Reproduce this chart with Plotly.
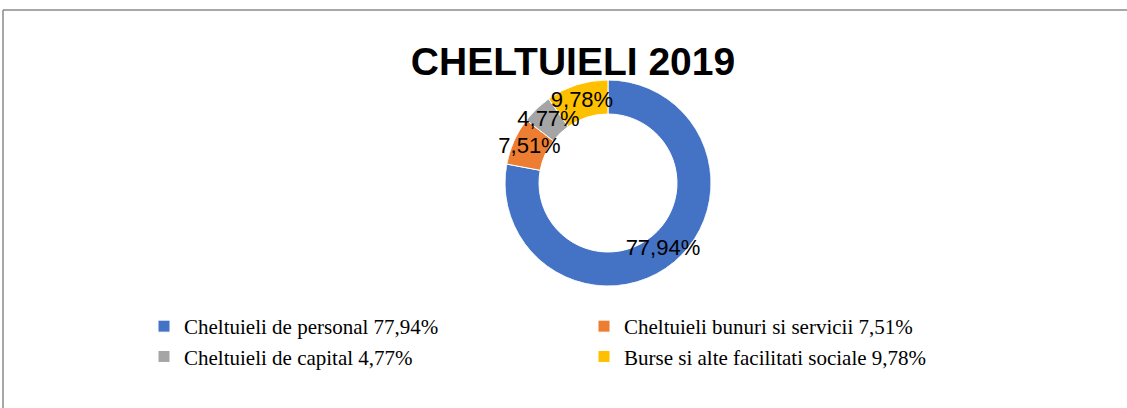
import plotly.graph_objects as go

categories = ["Cheltuieli de personal", "Cheltuieli bunuri si servicii",
              "Cheltuieli de capital", "Burse si alte facilitati sociale"]
values = [77.94, 7.51, 4.77, 9.78]
colors = ["#4472C4", "#ED7D31", "#A5A5A5", "#FFC000"]
title_text = "CHELTUIELI 2019"

W, H = 1127, 408
HOLE = 0.67
total = sum(values)

def fmt(v):
    return f"{v:.2f}".replace(".", ",") + "%"

# angular positions derived from the data (clockwise from 12 o'clock)
mids, spans = [], []
cum = 0.0
for v in values:
    span = v / total * 360.0
    mids.append(cum + span / 2)
    spans.append(span)
    cum += span

fig = go.Figure()
for c, v, col, m, s in zip(categories, values, colors, mids, spans):
    fig.add_trace(go.Barpolar(
        name=f"{c} {fmt(v)}",
        theta=[m], width=[s], base=[HOLE], r=[1 - HOLE],
        marker=dict(color=col, line=dict(color="white", width=1)),
        hovertemplate=f"{c}: {fmt(v)}<extra></extra>",
    ))

fig.add_trace(go.Scatterpolar(
    theta=mids, r=[(1 + HOLE) / 2] * len(values),
    mode="text", text=[fmt(v) for v in values],
    textposition="middle center",
    textfont=dict(family="Liberation Sans", size=22, color="black"),
    showlegend=False, hoverinfo="skip",
))

fig.update_layout(
    width=W, height=H,
    margin=dict(l=0, r=0, t=0, b=0),
    paper_bgcolor="white",
    polar=dict(
        domain=dict(x=[505 / W, 711 / W], y=[1 - 286 / H, 1 - 80 / H]),
        bgcolor="rgba(0,0,0,0)",
        bargap=0,
        radialaxis=dict(range=[0, 1], visible=False, showgrid=False),
        angularaxis=dict(rotation=90, direction="clockwise", visible=False, showgrid=False),
    ),
    title=dict(text=title_text, x=573 / W, xanchor="center", y=1 - 61 / H, yanchor="middle",
               font=dict(family="Liberation Sans", size=39, color="black", weight="bold")),
    legend=dict(orientation="h", x=144 / W, xanchor="left", y=1 - 306 / H, yanchor="top",
                entrywidth=395, entrywidthmode="pixels",
                font=dict(family="Liberation Serif", size=21, color="black"),
                itemclick=False, itemdoubleclick=False),
    shapes=[
        dict(type="line", xref="paper", yref="paper", x0=3 / W, x1=1, y0=1 - 10 / H, y1=1 - 10 / H,
             line=dict(color="#8a8a8a", width=1.5)),
        dict(type="line", xref="paper", yref="paper", x0=3 / W, x1=3 / W, y0=0, y1=1 - 10 / H,
             line=dict(color="#8a8a8a", width=1.5)),
    ],
)

fig.write_html("out.html", config={"displayModeBar": False},
               post_script="document.body.style.margin='0';")
